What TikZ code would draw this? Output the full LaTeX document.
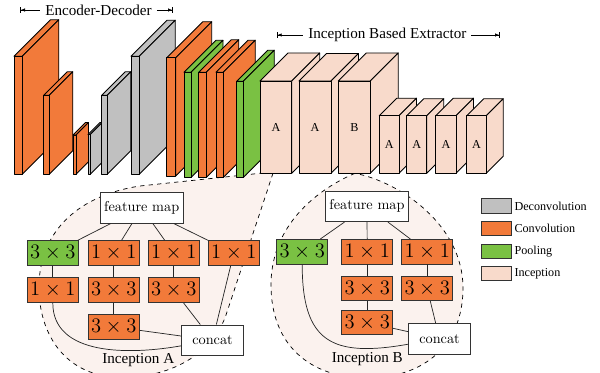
\documentclass[tikz,border=0pt]{standalone}
\usepackage{amsmath}
\usepackage{fontspec}
\newfontfamily\timesfont{Liberation Serif}
\usepackage{tikz}
\usetikzlibrary{arrows.meta,positioning,calc}

\definecolor{convcolor}{RGB}{242,122,58}
\definecolor{poolcolor}{RGB}{122,193,67}
\definecolor{deconvcolor}{RGB}{192,192,192}
\definecolor{inceptcolor}{RGB}{248,218,203}
\definecolor{regioncolor}{RGB}{251,242,238}

\tikzset{>=latex}
\tikzset{
  blockline/.style={line width=0.6pt, line join=round},
  opbox/.style={draw=black!80, line width=0.6pt, minimum width=35.7pt, minimum height=17.2pt, inner sep=0pt, font=\fontsize{13.5}{15}\selectfont},
  convbox/.style={opbox, fill=convcolor},
  poolbox/.style={opbox, fill=poolcolor},
  mapbox/.style={draw=black!80, fill=white, line width=0.6pt, minimum width=58pt, minimum height=21.5pt, inner sep=0pt},
  catbox/.style={mapbox, minimum width=43pt},
  region/.style={dashed, fill=regioncolor, line width=0.5pt},
  keybox/.style={draw=black!80, line width=0.6pt, minimum width=21.5pt, minimum height=10pt, inner sep=0pt},
  keytext/.style={inner sep=0pt, font=\timesfont\fontsize{8.5}{10}\selectfont},
  blocktext/.style={font=\timesfont\fontsize{8.5}{10}\selectfont},
  titletext/.style={font=\timesfont\fontsize{10.6}{12}\selectfont},
  spanline/.style={line width=0.5pt},
}

% x1, x2, top, bottom, depth, colour
\newcommand{\layerblock}[6]{%
  \draw[blockline, fill=#6] (#1,#3) -- (#1+#5,#3-#5) -- (#2+#5,#3-#5) -- (#2,#3) -- cycle;
  \draw[blockline, fill=#6] (#2,#3) -- (#2+#5,#3-#5) -- (#2+#5,#4-#5) -- (#2,#4) -- cycle;
  \draw[blockline, fill=#6] (#1,#3) rectangle (#2,#4);
}

\begin{document}
\begin{tikzpicture}[x=0.7pt, y=-0.7pt]

\useasboundingbox (0,0) rectangle (600,373);

% zoomed regions
\draw[region] (273,173.3) -- (226,315) .. controls (213,353) and (170,380) .. (115,377) .. controls (62,374) and (38,330) .. (39,285) .. controls (40,230) and (80,195) .. (140,186) -- (260,173.3) -- cycle;
\draw[region] (355,173.3) .. controls (325,186) and (271,220) .. (271,285) .. controls (271,345) and (310,378) .. (367,378) .. controls (424,378) and (463,345) .. (463,288) .. controls (463,225) and (400,182) .. (355,173.3) -- cycle;

% network
\layerblock{14}{22.3}{56.3}{174.3}{36.5}{convcolor}
\layerblock{43.7}{49.3}{95.3}{174.3}{23.5}{convcolor}
\layerblock{73}{76}{135}{174.3}{12.5}{convcolor}
\layerblock{88}{90.3}{134.5}{174.3}{12}{deconvcolor}
\layerblock{101.7}{107.3}{95.3}{174.3}{23.5}{deconvcolor}
\layerblock{131}{139.3}{56.3}{174.3}{36}{deconvcolor}
\layerblock{166.7}{175.7}{57.7}{176}{36}{convcolor}
\layerblock{184}{191}{72.3}{177.5}{32}{poolcolor}
\layerblock{198.7}{206.3}{72.3}{177.5}{32.5}{convcolor}
\layerblock{216}{223.3}{72.3}{177.5}{32}{convcolor}
\layerblock{236.7}{243.3}{81.3}{177.5}{31}{poolcolor}
\layerblock{260}{291.7}{81}{173.3}{28}{inceptcolor}
\layerblock{299}{331}{81}{173.3}{27.5}{inceptcolor}
\layerblock{338.3}{370.3}{81}{173.3}{28}{inceptcolor}
\layerblock{379.3}{399}{115.7}{173.3}{17.5}{inceptcolor}
\layerblock{406.7}{426.7}{115.7}{173.3}{17}{inceptcolor}
\layerblock{435.7}{456}{115.7}{173.3}{17.5}{inceptcolor}
\layerblock{466.7}{486.3}{115.7}{173.3}{17}{inceptcolor}

\node[blocktext] (ia1) at (275.9,127.2) {A};
\node[blocktext] (ia2) at (315,127.2) {A};
\node[blocktext] (ib1) at (354.3,127.2) {B};
\node[blocktext] (ia3) at (389.2,144.5) {A};
\node[blocktext] (ia4) at (416.7,144.5) {A};
\node[blocktext] (ia5) at (445.9,144.5) {A};
\node[blocktext] (ia6) at (476.5,144.5) {A};

% titles
\node[titletext] (enc) at (98.5,10) {Encoder-Decoder};
\coordinate (encl) at (20,10);
\coordinate (encr) at (173,10);
\node[titletext] (ext) at (387.3,35) {Inception Based Extractor};
\coordinate (extl) at (276.7,35);
\coordinate (extr) at (500,35);

\draw[spanline, {Bar[width=4pt]Latex[length=3pt,width=2.5pt]}-] (encl) -- (enc);
\draw[spanline, -{Latex[length=3pt,width=2.5pt]Bar[width=4pt]}] (enc) -- (encr);
\draw[spanline, {Bar[width=4pt]Latex[length=3pt,width=2.5pt]}-] (extl) -- (ext);
\draw[spanline, -{Latex[length=3pt,width=2.5pt]Bar[width=4pt]}] (ext) -- (extr);

% inception A
\node[mapbox] (fmA) at (141.7,207.8) {feature map};
\node[poolbox] (a11) at (52.8,253) {$3\times3$};
\node[convbox] (a21) at (52.8,290.2) {$1\times1$};
\node[convbox] (a12) at (113.7,253) {$1\times1$};
\node[convbox] (a22) at (113.7,290.2) {$3\times3$};
\node[convbox] (a32) at (113.7,326.8) {$3\times3$};
\node[convbox] (a13) at (173.7,253) {$1\times1$};
\node[convbox] (a23) at (173.7,290.2) {$3\times3$};
\node[convbox] (a14) at (233.8,253) {$1\times1$};
\node[catbox] (catA) at (212.5,340.3) {concat};
\node[titletext] (labA) at (138.3,360) {Inception A};

% inception B
\node[mapbox] (fmB) at (367,206.3) {feature map};
\node[poolbox] (b11) at (302.2,251.7) {$3\times3$};
\node[convbox] (b12) at (367.2,251.7) {$1\times1$};
\node[convbox] (b22) at (367.2,288.5) {$3\times3$};
\node[convbox] (b32) at (367.2,322.5) {$3\times3$};
\node[convbox] (b13) at (427.2,251.7) {$1\times1$};
\node[convbox] (b23) at (427.2,288.5) {$3\times3$};
\node[catbox] (catB) at (439.5,338.7) {concat};
\node[titletext] (labB) at (367.3,359.3) {Inception B};

\begin{scope}[line width=0.5pt, color=black!85]
\draw (fmA) to (a11);
\draw (fmA) to (a12);
\draw (fmA) to (a13);
\draw (fmA) to (a14);
\draw (a11) to (a21);
\draw (a12) to (a22);
\draw (a22) to (a32);
\draw (a13) to (a23);
\draw (a21) to[out=-90,in=190] (catA);
\draw (a32) to (catA);
\draw (a23) to (catA);
\draw (a14) to (catA);
\draw (fmB) to (b11);
\draw (fmB) to (b12);
\draw (fmB) to (b13);
\draw (b12) to (b22);
\draw (b22) to (b32);
\draw (b13) to (b23);
\draw (b11) to[out=-90,in=190,looseness=1.5] (catB);
\draw (b32) to (catB);
\draw (b23) to (catB);
\end{scope}

% legend
\node[keybox, fill=deconvcolor] (kdec) at (496.3,206) {};
\node[keybox, fill=convcolor, below=5.2pt of kdec] (kconv) {};
\node[keybox, fill=poolcolor, below=5.2pt of kconv] (kpool) {};
\node[keybox, fill=inceptcolor, below=5.2pt of kpool] (kinc) {};
\node[keytext, right=1.5pt of kdec] (tdec) {Deconvolution};
\node[keytext, right=1.5pt of kconv] (tconv) {Convolution};
\node[keytext, right=1.5pt of kpool] (tpool) {Pooling};
\node[keytext, right=1.5pt of kinc] (tinc) {Inception};

\end{tikzpicture}
\end{document}
